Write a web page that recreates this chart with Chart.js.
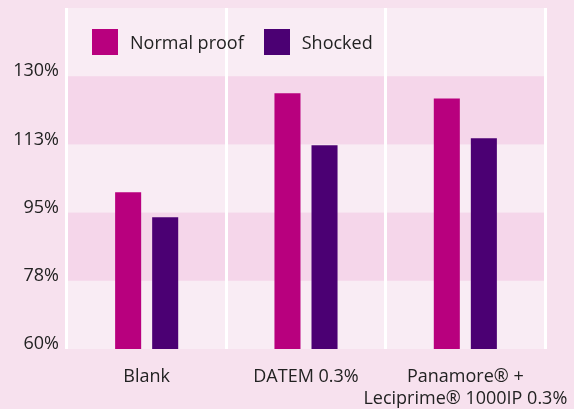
<!DOCTYPE html>
<html>
<head>
<meta charset="utf-8">
<script src="https://cdn.jsdelivr.net/npm/chart.js@4/dist/chart.umd.min.js"></script>
<style>
  html, body { margin: 0; padding: 0; background: #f7e1ee; }
  #wrap { position: relative; width: 574px; height: 409px; }
  #legend { position: absolute; left: 92px; top: 29px; display: flex; font-family: "Open Sans", sans-serif; font-size: 18px; color: #222; }
  .item { display: flex; align-items: center; margin-right: 20px; }
  .box { width: 26px; height: 26px; margin-right: 12px; }
</style>
</head>
<body>
<div id="wrap">
  <canvas id="c" width="574" height="409"></canvas>
  <div id="legend"></div>
</div>
<script>
const categories = ["Blank", "DATEM 0.3%", ["Panamore® +", "Leciprime® 1000IP 0.3%"]];
const seriesNames = ["Normal proof", "Shocked"];
const normalProof = [100.2, 125.6, 124.3];
const shocked = [93.8, 112.3, 114.1];
const seriesColors = ["#b8007e", "#4b0073"];
const yTicks = [60, 77.5, 95, 112.5, 130, 147.5];
const bandRanges = [[77.5, 95], [112.5, 130]];

const FONT = "'Open Sans', sans-serif";

const bandsPlugin = {
  id: 'bands',
  beforeDraw(chart) {
    const { ctx, chartArea: a, scales: { y } } = chart;
    ctx.save();
    ctx.fillStyle = '#f9ecf4';
    ctx.fillRect(a.left, a.top, a.right - a.left, a.bottom - a.top);
    ctx.fillStyle = '#f5d6ea';
    bandRanges.forEach(([lo, hi]) => {
      const t = y.getPixelForValue(hi), b = y.getPixelForValue(lo);
      ctx.fillRect(a.left, t, a.right - a.left, b - t);
    });
    ctx.restore();
  }
};

const chart = new Chart(document.getElementById('c'), {
  type: 'bar',
  data: {
    labels: categories,
    datasets: [
      { label: seriesNames[0], data: normalProof, backgroundColor: seriesColors[0] },
      { label: seriesNames[1], data: shocked, backgroundColor: seriesColors[1] }
    ]
  },
  options: {
    responsive: false,
    animation: false,
    categoryPercentage: 0.465,
    barPercentage: 0.703,
    layout: { padding: { top: 8, right: 29, left: 0, bottom: 0 } },
    plugins: { legend: { display: false }, tooltip: { enabled: false } },
    scales: {
      x: {
        grid: { offset: true, color: '#ffffff', lineWidth: 3, drawTicks: false },
        border: { display: false },
        ticks: { color: '#222', font: { family: FONT, size: 18, lineHeight: 1.2 }, padding: 17, maxRotation: 0, autoSkip: false },
        afterFit(s) { s.height = 60; s.paddingLeft = 0; s.paddingRight = 0; }
      },
      y: {
        min: yTicks[0],
        max: yTicks[yTicks.length - 1],
        afterBuildTicks(s) { s.ticks = yTicks.map(v => ({ value: v })); },
        grid: { display: false, drawTicks: false },
        border: { display: false },
        ticks: {
          color: '#222',
          font: { family: FONT, size: 18 },
          padding: 8,
          labelOffset: -5,
          callback: (v) => v === yTicks[yTicks.length - 1] ? '' : Math.round(v) + '%'
        },
        afterFit(s) { s.width = 67; s.paddingTop = 0; s.paddingBottom = 0; }
      }
    }
  },
  plugins: [bandsPlugin]
});

const lg = document.getElementById('legend');
seriesNames.forEach((n, i) => {
  const it = document.createElement('div');
  it.className = 'item';
  const b = document.createElement('div');
  b.className = 'box';
  b.style.background = seriesColors[i];
  const t = document.createElement('span');
  t.textContent = n;
  it.appendChild(b); it.appendChild(t);
  lg.appendChild(it);
});
</script>
</body>
</html>
